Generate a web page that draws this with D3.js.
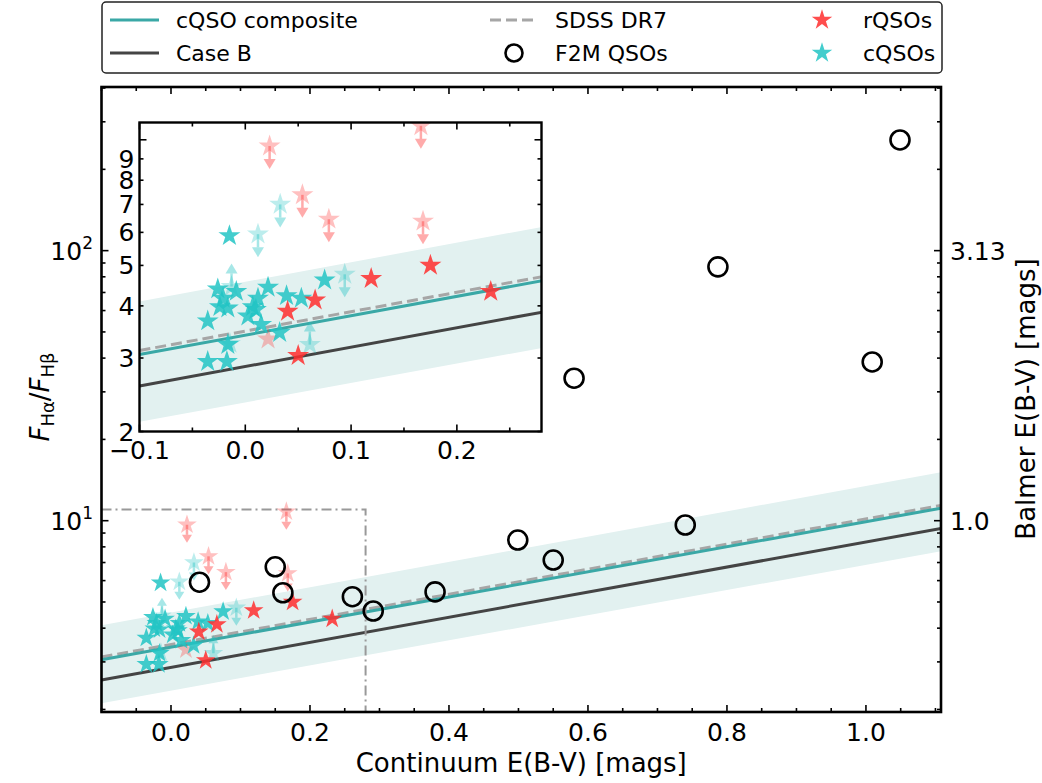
<!DOCTYPE html>
<html><head><meta charset="utf-8">
<script src="https://cdn.jsdelivr.net/npm/d3@7"></script>
<style>body{margin:0;background:#fff}svg{font-family:"DejaVu Sans",sans-serif}</style>
</head><body><script>
// ---------------- data ----------------
const cqsoE = [-0.015,-0.026,-0.0085,0.0215,-0.021,0.012,-0.024,-0.0165,0.007,0.039,0.053,0.075,-0.0355,0.0025,0.015,0.0325,-0.0165,-0.0355,-0.0174,0.010];
const cqsoR = [5.89,4.39,4.33,4.43,4.17,4.17,3.98,3.95,3.98,4.23,4.17,4.61,3.68,3.78,3.61,3.45,3.23,2.94,2.94,3.92];
const rqsoE = [0.040,0.066,0.119,0.175,0.232,0.050];
const rqsoR = [3.88,4.13,4.65,5.00,4.33,3.04];
const rqsoUpperE = [0.023,0.166,0.054,0.079,0.168];
const rqsoUpperR = [9.66,10.8,7.38,6.45,6.38];
const cqsoUpperE = [0.033,0.012,0.094];
const cqsoUpperR = [7.0,5.94,4.76];
const cqsoLowerE = [-0.013,0.061];
const cqsoLowerR = [4.45,3.23];
const rqsoFaintE = [0.0215];
const rqsoFaintR = [3.33];
const cqsoFaintE = [-0.0145];
const cqsoFaintR = [3.25];
const f2mE = [0.041,0.150,0.161,0.261,0.291,0.380,0.499,0.550,0.580,0.740,0.787,1.009,1.049];
const f2mR = [5.92,6.75,5.41,5.23,4.63,5.45,8.48,7.15,33.7,9.64,87.1,38.7,257];
// model lines (value at the two ends of the E(B-V) range)
const lineE = [-0.1, 1.108];
const cqsoCompositeR = [3.058, 11.13];
const caseBR = [2.572, 9.36];
const sdssR = [3.127, 11.39];
const bandUpperR = [4.10, 15.1];
const bandLowerR = [2.11, 7.70];
const insetBox = {e: 0.28, r: 11};
const xTicks = [0,0.2,0.4,0.6,0.8,1.0];
const rightTickR = [100, 10];
const rightTickLabels = ["3.13","1.0"];
const insetXTicks = [-0.1,0,0.1,0.2];
const insetYLabels = [2,3,4,5,6,7,8,9];

// ---------------- colours ----------------
const RED = "#ff2e2e", TEAL = "#22c4c4", LINE_TEAL = "#3aa8a6", CASEB = "#444444", SDSS = "#a6a6a6", BAND = "#e2f1f0";
const TICK_FS = 25, LABEL_FS = 26, LEG_FS = 22;

const svg = d3.select("body").append("svg").attr("width",1042).attr("height",783);

const x = d3.scaleLinear().domain([-0.1, 1.108]).range([101.5, 941]);
const y = d3.scaleLog().domain([1.957, 403.6]).range([712, 87]);
const xi = d3.scaleLinear().domain([-0.1, 0.28]).range([139.5, 541.5]);
const yi = d3.scaleLog().domain([2, 11]).range([431.5, 122.5]);

const defs = svg.append("defs");
defs.append("clipPath").attr("id","clipMain").append("rect")
  .attr("x",x.range()[0]).attr("y",y.range()[1]).attr("width",x.range()[1]-x.range()[0]).attr("height",y.range()[0]-y.range()[1]);
defs.append("clipPath").attr("id","clipIn").append("rect")
  .attr("x",xi.range()[0]).attr("y",yi.range()[1]).attr("width",xi.range()[1]-xi.range()[0]).attr("height",yi.range()[0]-yi.range()[1]);

function zip(a,b){return a.map((v,i)=>[v,b[i]]);}

function drawPanel(g, sx, sy, opts){
  const band = d3.area().x(d=>sx(d[0])).y0(d=>sy(d[1])).y1(d=>sy(d[2]));
  g.append("path").datum(lineE.map((e,i)=>[e,bandLowerR[i],bandUpperR[i]]))
    .attr("d",band).attr("fill",BAND);
  const ln = d3.line().x(d=>sx(d[0])).y(d=>sy(d[1]));
  g.append("path").datum(zip(lineE,caseBR)).attr("d",ln).attr("stroke",CASEB).attr("stroke-width",3).attr("fill","none");
  g.append("path").datum(zip(lineE,sdssR)).attr("d",ln).attr("stroke",SDSS).attr("stroke-width",3).attr("stroke-dasharray","11,5").attr("fill","none");
  g.append("path").datum(zip(lineE,cqsoCompositeR)).attr("d",ln).attr("stroke",LINE_TEAL).attr("stroke-width",3).attr("fill","none");

  if(opts.main){
    g.append("path").datum([[-0.1,insetBox.r],[insetBox.e,insetBox.r],[insetBox.e,1.957]])
      .attr("d",ln).attr("fill","none").attr("stroke","#999").attr("stroke-width",2)
      .attr("stroke-dasharray","10,4,2,4");
  }
  const star = d3.symbol(d3.symbolStar, opts.starSize);
  function limits(E,R,col,dir){
    const L = opts.arrowLen, Hh = opts.headLen, Hw = opts.headW;
    E.forEach((e,i)=>{
      const px=sx(e), py=sy(R[i]);
      const gg=g.append("g");
      gg.append("path").attr("d",star()).attr("transform",`translate(${px},${py})`).attr("fill",col).attr("opacity",0.3);
      gg.append("line").attr("x1",px).attr("x2",px).attr("y1",py).attr("y2",py+dir*L).attr("stroke",col).attr("stroke-width",2.5).attr("opacity",0.4);
      const tip = py+dir*(L+Hh);
      gg.append("path").attr("d",`M${px-Hw/2},${py+dir*L}L${px+Hw/2},${py+dir*L}L${px},${tip}Z`).attr("fill",col).attr("opacity",0.4);
    });
  }
  function faint(E,R,col){
    E.forEach((e,i)=>{
      g.append("path").attr("d",star()).attr("transform",`translate(${sx(e)},${sy(R[i])})`).attr("fill",col).attr("opacity",0.3);
    });
  }
  limits(rqsoUpperE,rqsoUpperR,RED,1);
  limits(cqsoUpperE,cqsoUpperR,TEAL,1);
  limits(cqsoLowerE,cqsoLowerR,TEAL,-1);
  faint(rqsoFaintE,rqsoFaintR,RED);
  faint(cqsoFaintE,cqsoFaintR,TEAL);
  cqsoE.forEach((e,i)=>{
    g.append("path").attr("d",star()).attr("transform",`translate(${sx(e)},${sy(cqsoR[i])})`).attr("fill",TEAL).attr("opacity",0.85);
  });
  rqsoE.forEach((e,i)=>{
    g.append("path").attr("d",star()).attr("transform",`translate(${sx(e)},${sy(rqsoR[i])})`).attr("fill",RED).attr("opacity",0.85);
  });
  if(opts.main){
    f2mE.forEach((e,i)=>{
      g.append("circle").attr("cx",sx(e)).attr("cy",sy(f2mR[i])).attr("r",9.5)
        .attr("fill","none").attr("stroke","#000").attr("stroke-width",2.6);
    });
  }
}

function logMinor(lo,hi){
  const out=[];
  for(let d=-1; d<4; d++){for(let k=1;k<10;k++){const v=k*Math.pow(10,d); if(v>=lo*0.999 && v<=hi*1.001) out.push(v);}}
  return out;
}

// -------- main panel --------
const gMain = svg.append("g").attr("clip-path","url(#clipMain)");
drawPanel(gMain, x, y, {main:true, starSize:120, arrowLen:10, headLen:8, headW:10});

const X0=x.range()[0], X1=x.range()[1], Y0=y.range()[0], Y1=y.range()[1];
const axG = svg.append("g").attr("stroke","#000");
d3.range(-0.1,1.11,0.05).forEach(v=>{
  const vv=Math.round(v*100)/100;
  const major = xTicks.some(t=>Math.abs(t-vv)<1e-6);
  const L = major?7:4, px=x(vv);
  axG.append("line").attr("x1",px).attr("x2",px).attr("y1",Y0).attr("y2",Y0-L).attr("stroke-width",1.6);
  axG.append("line").attr("x1",px).attr("x2",px).attr("y1",Y1).attr("y2",Y1+L).attr("stroke-width",1.6);
});
logMinor(y.domain()[0],y.domain()[1]).forEach(v=>{
  const major = [1,10,100].includes(v);
  const L = major?7:4, py=y(v);
  axG.append("line").attr("x1",X0).attr("x2",X0+L).attr("y1",py).attr("y2",py).attr("stroke-width",1.6);
  axG.append("line").attr("x1",X1).attr("x2",X1-L).attr("y1",py).attr("y2",py).attr("stroke-width",1.6);
});
svg.append("rect").attr("x",X0).attr("y",Y1).attr("width",X1-X0).attr("height",Y0-Y1)
  .attr("fill","none").attr("stroke","#000").attr("stroke-width",2.6);

xTicks.forEach(t=>{
  svg.append("text").attr("x",x(t)).attr("y",741).attr("text-anchor","middle").attr("font-size",TICK_FS).text(t.toFixed(1));
});
[10,100].forEach(v=>{
  const t = svg.append("text").attr("x",93).attr("y",y(v)+9).attr("text-anchor","end").attr("font-size",TICK_FS);
  t.append("tspan").text("10");
  t.append("tspan").attr("font-size",17).attr("dy",-11).text(String(Math.round(Math.log10(v))));
});
rightTickR.forEach((v,i)=>{
  svg.append("text").attr("x",950).attr("y",y(v)+9).attr("font-size",TICK_FS).text(rightTickLabels[i]);
});
svg.append("text").attr("x",(X0+X1)/2).attr("y",772).attr("text-anchor","middle").attr("font-size",LABEL_FS).text("Continuum E(B-V) [mags]");
svg.append("text").attr("transform","translate(1035,399) rotate(-90)").attr("text-anchor","middle").attr("font-size",LABEL_FS).text("Balmer E(B-V) [mags]");
const yl = svg.append("text").attr("transform","translate(49,397) rotate(-90)").attr("text-anchor","middle").attr("font-size",LABEL_FS);
yl.append("tspan").attr("font-style","italic").text("F");
yl.append("tspan").attr("font-size",18).attr("dy",5).text("Hα");
yl.append("tspan").attr("dy",-5).text("/");
yl.append("tspan").attr("font-style","italic").text("F");
yl.append("tspan").attr("font-size",18).attr("dy",5).text("Hβ");

// -------- inset --------
const IX0=xi.range()[0], IX1=xi.range()[1], IY0=yi.range()[0], IY1=yi.range()[1];
svg.append("rect").attr("x",IX0).attr("y",IY1).attr("width",IX1-IX0).attr("height",IY0-IY1).attr("fill","#fff");
const gIn = svg.append("g").attr("clip-path","url(#clipIn)");
drawPanel(gIn, xi, yi, {main:false, starSize:150, arrowLen:13, headLen:10, headW:12});
const iax = svg.append("g").attr("stroke","#000");
d3.range(-0.1,0.2801,0.05).forEach(v=>{
  const vv=Math.round(v*100)/100;
  const major = insetXTicks.some(t=>Math.abs(t-vv)<1e-6);
  const L=major?7:4, px=xi(vv);
  iax.append("line").attr("x1",px).attr("x2",px).attr("y1",IY0).attr("y2",IY0-L).attr("stroke-width",1.6);
  iax.append("line").attr("x1",px).attr("x2",px).attr("y1",IY1).attr("y2",IY1+L).attr("stroke-width",1.6);
});
logMinor(2,11).forEach(v=>{
  const L = v===10?7:4, py=yi(v);
  iax.append("line").attr("x1",IX0).attr("x2",IX0+L).attr("y1",py).attr("y2",py).attr("stroke-width",1.6);
  iax.append("line").attr("x1",IX1).attr("x2",IX1-L).attr("y1",py).attr("y2",py).attr("stroke-width",1.6);
});
svg.append("rect").attr("x",IX0).attr("y",IY1).attr("width",IX1-IX0).attr("height",IY0-IY1)
  .attr("fill","none").attr("stroke","#000").attr("stroke-width",2.4);
insetYLabels.forEach(v=>{
  svg.append("text").attr("x",IX0-5).attr("y",yi(v)+9).attr("text-anchor","end").attr("font-size",TICK_FS).text(v);
});
insetXTicks.forEach(t=>{
  svg.append("text").attr("x",xi(t)).attr("y",459).attr("text-anchor","middle").attr("font-size",TICK_FS).text(t<0?"−"+Math.abs(t).toFixed(1):t.toFixed(1));
});

// -------- legend --------
const lg = svg.append("g");
lg.append("rect").attr("x",102).attr("y",2).attr("width",840).attr("height",71).attr("rx",4)
  .attr("fill","#fff").attr("stroke","#222").attr("stroke-width",1.5);
const row=[20,53];
lg.append("line").attr("x1",110).attr("x2",159).attr("y1",row[0]).attr("y2",row[0]).attr("stroke",LINE_TEAL).attr("stroke-width",3);
lg.append("text").attr("x",176).attr("y",row[0]+8).attr("font-size",LEG_FS).text("cQSO composite");
lg.append("line").attr("x1",110).attr("x2",159).attr("y1",row[1]).attr("y2",row[1]).attr("stroke",CASEB).attr("stroke-width",3);
lg.append("text").attr("x",176).attr("y",row[1]+8).attr("font-size",LEG_FS).text("Case B");
lg.append("line").attr("x1",490).attr("x2",537).attr("y1",row[0]).attr("y2",row[0]).attr("stroke",SDSS).attr("stroke-width",3).attr("stroke-dasharray","11,5");
lg.append("text").attr("x",555).attr("y",row[0]+8).attr("font-size",LEG_FS).text("SDSS DR7");
lg.append("circle").attr("cx",514).attr("cy",row[1]).attr("r",8.5).attr("fill","none").attr("stroke","#000").attr("stroke-width",2.6);
lg.append("text").attr("x",555).attr("y",row[1]+8).attr("font-size",LEG_FS).text("F2M QSOs");
const lstar = d3.symbol(d3.symbolStar,130);
lg.append("path").attr("d",lstar()).attr("transform",`translate(822,${row[0]})`).attr("fill",RED).attr("opacity",0.85);
lg.append("text").attr("x",863).attr("y",row[0]+8).attr("font-size",LEG_FS).text("rQSOs");
lg.append("path").attr("d",lstar()).attr("transform",`translate(822,${row[1]})`).attr("fill",TEAL).attr("opacity",0.85);
lg.append("text").attr("x",863).attr("y",row[1]+8).attr("font-size",LEG_FS).text("cQSOs");
</script></body></html>
